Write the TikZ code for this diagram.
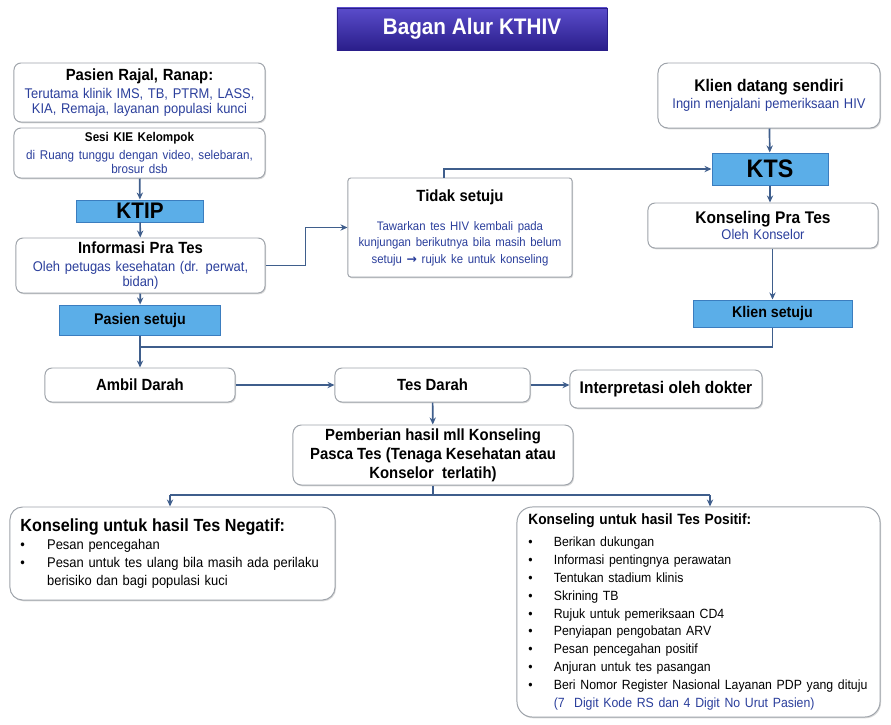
\documentclass[tikz,border=0pt]{standalone}
\usepackage{fontspec}
\setmainfont{Liberation Sans}[FakeStretch=0.92]
\newfontfamily\arrowfont{DejaVu Sans}
\usepackage{xcolor}
\usepackage{tikz}
\usetikzlibrary{arrows.meta,shadows}
\definecolor{flowline}{HTML}{3F5E8C}
\definecolor{boxline}{HTML}{9EA3AA}
\definecolor{tagfill}{HTML}{5BAEE8}
\definecolor{tagline}{HTML}{3B7DBF}
\definecolor{subblue}{HTML}{2B3F9C}
\definecolor{bannertop}{HTML}{5A4CCB}
\definecolor{bannerbot}{HTML}{2A1E8A}
\newcommand{\listdot}{\leavevmode\hangindent=1.9em\hangafter=1\makebox[1.9em][l]{•}}
\tikzset{
card/.style = {rectangle, rounded corners=#1, draw=boxline, fill=white,
               line width=0.7pt, inner sep=1pt, align=center,
               drop shadow={shadow xshift=0.7pt, shadow yshift=-0.9pt, opacity=0.3}},
card/.default = 5pt % corner radius
}
\tikzset{
tag/.style = {rectangle, draw=tagline, fill=tagfill, line width=0.7pt, inner sep=1pt,
              drop shadow={shadow xshift=0.7pt, shadow yshift=-0.9pt, opacity=0.3},
              font=\bfseries\fontsize{#1}{#1}\selectfont},
tag/.default = 11
}
\tikzset{
banner/.style = {rectangle, top color=bannertop, bottom color=bannerbot, draw=bannerbot,
                 text=white, font=\bfseries\fontsize{16}{18}\selectfont,
                 drop shadow={shadow xshift=0.8pt, shadow yshift=-1pt, opacity=0.35}}
}
\tikzset{
link/.style = {draw=flowline, line width=1.2pt},
flow/.style = {link, -{Stealth[length=5pt, width=4.5pt]}}
}

\begin{document}
\begin{tikzpicture}[x=0.025cm, y=-0.025cm]
\useasboundingbox (0,0) rectangle (891,724);

\node[banner, minimum width=6.75cm, minimum height=1.05cm] (title) at (472,29) {Bagan Alur KTHIV};

% left column
\node[card, minimum width=6.275cm, minimum height=1.475cm, text width=6.1cm] (pasien) at (139.5,92.5)
  {{\bfseries\fontsize{11.5}{13}\selectfont Pasien Rajal, Ranap:\par}\vspace{2pt}
   {\fontsize{10}{11}\selectfont\textcolor{subblue}{Terutama klinik IMS, TB, PTRM, LASS,\\ KIA, Remaja, layanan populasi kunci}\par}};
\node[card, minimum width=6.275cm, minimum height=1.25cm, text width=6.1cm] (sesi) at (139.5,153)
  {{\bfseries\fontsize{9}{10}\selectfont Sesi KIE Kelompok\par}\vspace{3pt}
   {\fontsize{9}{9.8}\selectfont\textcolor{subblue}{di Ruang tunggu dengan video, selebaran,\\ brosur dsb}\par}};
\node[tag=16, minimum width=3.15cm, minimum height=0.55cm] (ktip) at (140,211) {KTIP};
\node[card, minimum width=6.225cm, minimum height=1.375cm, text width=6.1cm] (info) at (140.5,265.5)
  {{\bfseries\fontsize{11.5}{13}\selectfont Informasi Pra Tes\par}\vspace{2pt}
   {\fontsize{10}{11}\selectfont\textcolor{subblue}{Oleh petugas kesehatan (dr. perwat,\\ bidan)}\par}};
\node[tag=11, minimum width=4cm, minimum height=0.75cm] (pasetuju) at (140,320) {Pasien setuju};

% middle
\node[card=2pt, minimum width=5.6cm, minimum height=2.475cm, text width=5.4cm] (tidak) at (460,227.5)
  {{\bfseries\fontsize{11.5}{13}\selectfont Tidak setuju\par}\vspace{9pt}
   {\fontsize{8.8}{11.7}\selectfont\textcolor{subblue}{Tawarkan tes HIV kembali pada\\ kunjungan berikutnya bila masih belum\\ setuju {\arrowfont\bfseries →} rujuk ke untuk konseling}\par}};

% right column
\node[card=7pt, minimum width=5.55cm, minimum height=1.625cm, text width=5.4cm] (klien) at (769,95.5)
  {{\bfseries\fontsize{12}{13}\selectfont Klien datang sendiri\par}\vspace{1pt}
   {\fontsize{10}{11}\selectfont\textcolor{subblue}{Ingin menjalani pemeriksaan HIV}\par}};
\node[tag=18, minimum width=2.9cm, minimum height=0.8cm] (kts) at (770,169) {KTS};
\node[card, minimum width=5.75cm, minimum height=1.125cm, text width=5.6cm] (kpt) at (763,225.5)
  {{\bfseries\fontsize{12}{13}\selectfont Konseling Pra Tes\par}\vspace{1pt}
   {\fontsize{10}{11}\selectfont\textcolor{subblue}{Oleh Konselor}\par}};
\node[tag=11, minimum width=3.975cm, minimum height=0.675cm] (ksetuju) at (772.5,313.5) {Klien setuju};

% blood test row
\node[card, minimum width=4.75cm, minimum height=0.85cm, font=\bfseries\fontsize{11.5}{13}\selectfont] (ambil) at (140,385) {Ambil Darah};
\node[card, minimum width=4.875cm, minimum height=0.85cm, font=\bfseries\fontsize{11.5}{13}\selectfont] (tesdarah) at (432.5,385) {Tes Darah};
\node[card, minimum width=4.8cm, minimum height=0.95cm, font=\bfseries\fontsize{12}{13}\selectfont] (interp) at (666,389) {Interpretasi oleh dokter};
\node[card=6pt, minimum width=7cm, minimum height=1.5cm, font=\bfseries\fontsize{11.5}{13.5}\selectfont] (pemberian) at (433,455)
  {Pemberian hasil mll Konseling\\ Pasca Tes (Tenaga Kesehatan atau\\ Konselor\ \ terlatih)};

% results
\node[card=9pt, minimum width=8.125cm, minimum height=2.325cm, text width=7.6cm, align=left] (negatif) at (172.5,553.5)
  {{\bfseries\fontsize{12.5}{14}\selectfont Konseling untuk hasil Tes Negatif:\par}
   {\fontsize{10}{13}\selectfont
   \listdot Pesan pencegahan\par
   \listdot Pesan untuk tes ulang bila masih ada perilaku\newline berisiko dan bagi populasi kuci\par}};
\node[card=11pt, minimum width=9.075cm, minimum height=5.25cm, text width=8.5cm, align=left] (positif) at (698.5,612)
  {{\bfseries\fontsize{10.6}{13}\selectfont Konseling untuk hasil Tes Positif:\par}\vspace{3pt}
   {\fontsize{9.5}{12.7}\selectfont
   \listdot Berikan dukungan\par
   \listdot Informasi pentingnya perawatan\par
   \listdot Tentukan stadium klinis\par
   \listdot Skrining TB\par
   \listdot Rujuk untuk pemeriksaan CD4\par
   \listdot Penyiapan pengobatan ARV\par
   \listdot Pesan pencegahan positif\par
   \listdot Anjuran untuk tes pasangan\par
   \listdot Beri Nomor Register Nasional Layanan PDP yang dituju\newline \textcolor{subblue}{(7\ \ Digit Kode RS dan 4 Digit No Urut Pasien)}\par}};

\coordinate (merge) at (140,347);
\coordinate (split) at (433,495);
\coordinate (negTop) at (170,495);
\coordinate (posTop) at (710,495);

% connectors
\draw[flow] (sesi) -- (ktip);
\draw[flow] (ktip) -- (info);
\draw[flow] (info) -- (pasetuju);
\draw[flow] (info.east) -- ++(40,0) |- (tidak.west);
\draw[flow] ([xshift=-0.4cm]tidak.north) |- (kts.west);
\draw[flow] (klien) -- (kts);
\draw[flow] (kts.south) -- (kts.south |- kpt.north);
\draw[flow] (kpt.south -| ksetuju.north) -- (ksetuju.north);
\draw[link] (ksetuju.south) |- (merge);
\draw[flow] (pasetuju) -- (ambil);
\draw[flow] (ambil) -- (tesdarah);
\draw[flow] (tesdarah.east) -- (tesdarah.east -| interp.west);
\draw[flow] (tesdarah) -- (pemberian);
\draw[link] (pemberian.south) -- (split);
\draw[link] (negTop) -- (posTop);
\draw[flow] (negTop) -- (negTop |- negatif.north);
\draw[flow] (posTop) -- (posTop |- positif.north);
\end{tikzpicture}
\end{document}
